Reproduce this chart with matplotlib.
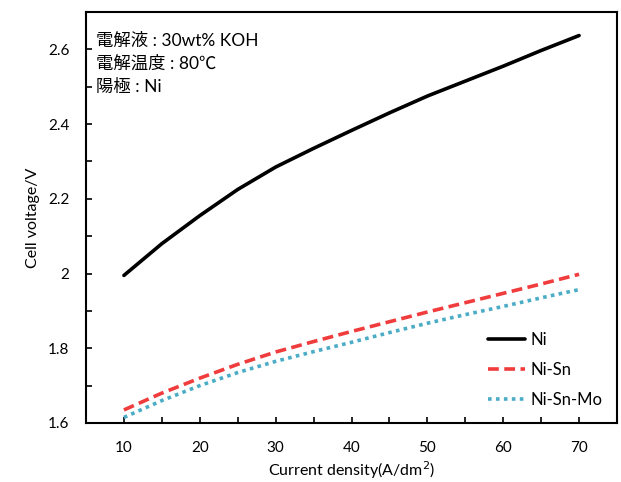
import matplotlib
matplotlib.use("Agg")
import matplotlib.pyplot as plt
from matplotlib.ticker import MultipleLocator

plt.rcParams['font.family'] = ['Lato', 'Noto Sans CJK JP', 'DejaVu Sans']

current = [10, 15, 20, 25, 30, 35, 40, 45, 50, 55, 60, 65, 70]
ni = [1.995, 2.080, 2.155, 2.225, 2.285, 2.335, 2.383, 2.430, 2.475, 2.515, 2.555, 2.597, 2.637]
ni_sn = [1.635, 1.680, 1.720, 1.757, 1.790, 1.818, 1.845, 1.871, 1.897, 1.922, 1.947, 1.972, 1.998]
ni_sn_mo = [1.615, 1.660, 1.700, 1.735, 1.765, 1.791, 1.816, 1.842, 1.867, 1.890, 1.912, 1.935, 1.957]

fig = plt.figure(figsize=(6.21, 4.82), dpi=100)
ax = fig.add_axes([86/621, 1-423/482, (617-86)/621, (423-12)/482])

ax.plot(current, ni, color='black', lw=2.6, label='Ni', solid_capstyle='round')
ax.plot(current, ni_sn, color='#f03c3c', lw=2.6, ls=(0, (3, 1.5)), label='Ni-Sn')
ax.plot(current, ni_sn_mo, color='#4bacc6', lw=2.6, ls=(0, (1, 1.2)), label='Ni-Sn-Mo')

ax.set_xlim(5, 75)
ax.set_ylim(1.6, 2.7)
ax.set_xticks([10, 20, 30, 40, 50, 60, 70])
ax.xaxis.set_minor_locator(MultipleLocator(5))
ax.set_yticks([1.6, 1.8, 2.0, 2.2, 2.4, 2.6])
ax.set_yticklabels(['1.6', '1.8', '2', '2.2', '2.4', '2.6'])
ax.yaxis.set_minor_locator(MultipleLocator(0.1))
ax.tick_params(which='both', direction='in', labelsize=11, width=1.2, length=4)
ax.tick_params(axis='x', pad=13)
ax.tick_params(axis='y', pad=12)
for s in ax.spines.values():
    s.set_linewidth(1.5)

ax.set_xlabel('Current density(A/dm$^2$)', fontsize=11.5, labelpad=3)
ax.set_ylabel('Cell voltage/V', fontsize=11.5, labelpad=6)

ax.text(0.018, 0.95, '電解液 : 30wt% KOH\n電解温度 : 80℃\n陽極 : Ni', transform=ax.transAxes,
        fontsize=12.5, va='top', ha='left', linespacing=1.55)

ax.legend(loc='lower right', frameon=False, fontsize=12, handlelength=2.2,
          labelspacing=0.85, bbox_to_anchor=(1.0, 0.0), handletextpad=0.3)

fig.savefig('out.png', dpi=100)
